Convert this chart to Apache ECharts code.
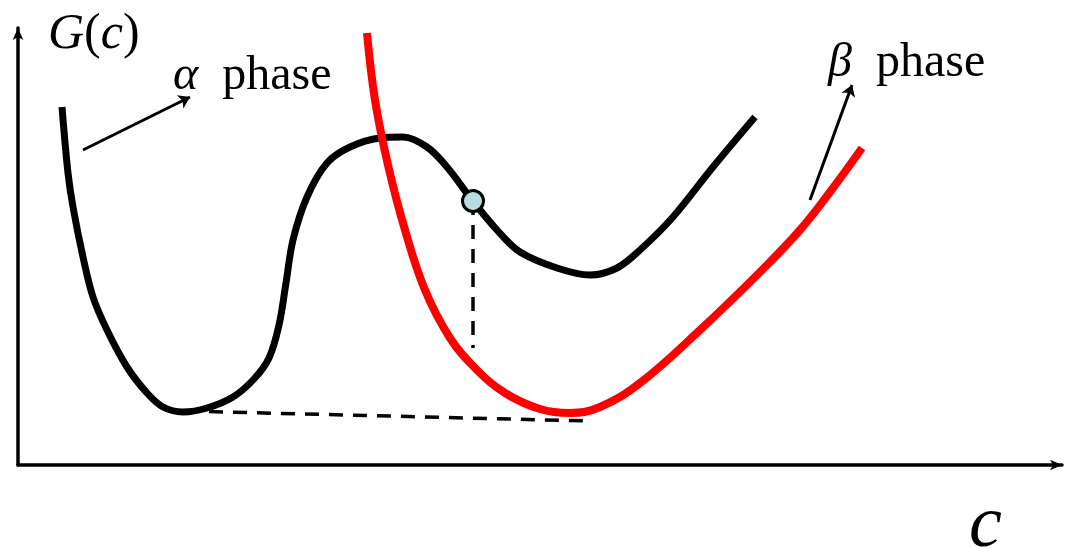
<!DOCTYPE html>
<html>
<head>
<meta charset="utf-8">
<script src="https://cdn.jsdelivr.net/npm/echarts@6/dist/echarts.min.js"></script>
<style>
  html, body { margin: 0; padding: 0; background: #fff; }
  #chart { width: 1066px; height: 548px; }
</style>
</head>
<body>
<div id="chart"></div>
<script>
// Free-energy curves G(c) for the alpha and beta phases (arbitrary units).
const alphaCurve = [
  [44, 358], [50, 292], [55, 258], [65, 208], [75, 168], [89, 135], [109, 98],
  [129, 72], [145, 58], [165, 53], [189, 57], [215, 68], [236, 86], [251, 107],
  [261, 140], [268, 182], [275, 225], [289, 268], [309, 302], [332, 318],
  [362, 327], [385, 328], [409, 318], [429, 298], [454, 265], [479, 235],
  [502, 213], [539, 197], [572, 190], [599, 197], [622, 215], [655, 248],
  [695, 298], [737, 348]
];
const betaCurve = [
  [349, 432], [357, 365], [370, 300], [387, 235], [407, 175], [432, 127],
  [457, 97], [487, 72], [522, 56], [552, 52], [582, 58], [622, 82], [682, 135],
  [742, 193], [782, 235], [812, 273], [844, 317]
];
// Common tangent between the two minima
const commonTangent = [[167, 54], [570, 44]];
// Point on the alpha curve and its drop line
const markedPoint = [455, 264];
const dropLine = [[455, 264], [455, 117]];
// Pointer arrows to the phase labels
const alphaPointer = [[65, 315], [172, 368]];
const betaPointer = [[792, 265], [834, 380]];
// Text labels: [x, y, key]
const textLabels = [
  [155, 389, 'alpha'],
  [810, 402, 'beta'],
  [30, 430, 'G'],
  [951, -62, 'c']
];

const serif = '"Times New Roman", "Liberation Serif", serif';

const chart = echarts.init(document.getElementById('chart'), null, { renderer: 'canvas' });

function arrowSeries(pts) {
  return {
    type: 'lines',
    coordinateSystem: 'cartesian2d',
    silent: true,
    symbol: ['none', 'arrow'],
    symbolSize: [0, 11],
    lineStyle: { color: '#000', width: 3, opacity: 1 },
    data: [{ coords: pts }],
    z: 5
  };
}

const richText = {
  it: { fontFamily: serif, fontStyle: 'italic', fontSize: 48, lineHeight: 48, color: '#000' },
  rm: { fontFamily: serif, fontSize: 48, lineHeight: 48, color: '#000' },
  git: { fontFamily: serif, fontStyle: 'italic', fontSize: 50, lineHeight: 50, color: '#000' },
  grm: { fontFamily: serif, fontSize: 50, lineHeight: 50, color: '#000' },
  big: { fontFamily: serif, fontStyle: 'italic', fontSize: 74, lineHeight: 74, color: '#000' }
};
const labelText = {
  alpha: '{it|α}{rm|  phase}',
  beta: '{it|β}{rm|  phase}',
  G: '{git|G}{grm|(}{git|c}{grm|)}',
  c: '{big|c}'
};

chart.setOption({
  animation: false,
  backgroundColor: '#fff',
  grid: { left: 18, right: 4, top: 28, bottom: 83 },
  xAxis: {
    type: 'value', min: 0, max: 1044,
    axisLine: { show: true, onZero: false, symbol: ['none', 'arrow'], symbolSize: [8, 12],
      lineStyle: { color: '#000', width: 3.5 } },
    axisTick: { show: false }, axisLabel: { show: false }, splitLine: { show: false }
  },
  yAxis: {
    type: 'value', min: 0, max: 437,
    axisLine: { show: true, onZero: false, symbol: ['none', 'arrow'], symbolSize: [8, 12],
      lineStyle: { color: '#000', width: 3.5 } },
    axisTick: { show: false }, axisLabel: { show: false }, splitLine: { show: false }
  },
  series: [
    {
      type: 'line', data: commonTangent, showSymbol: false, silent: true,
      lineStyle: { color: '#000', width: 3.5, type: [14, 10] }, z: 2
    },
    {
      type: 'line', data: dropLine, showSymbol: false, silent: true,
      lineStyle: { color: '#000', width: 3.5, type: [14, 10] }, z: 2
    },
    {
      type: 'line', data: alphaCurve, smooth: 0.35, showSymbol: false, silent: true,
      lineStyle: { color: '#000', width: 7, cap: 'butt' }, z: 3
    },
    {
      type: 'line', data: betaCurve, smooth: 0.4, showSymbol: false, silent: true,
      lineStyle: { color: '#ff0000', width: 8, cap: 'butt' }, z: 4
    },
    {
      type: 'scatter', data: [markedPoint], symbol: 'circle', symbolSize: 21, silent: true,
      itemStyle: { color: '#b7dde0', borderColor: '#000', borderWidth: 3, opacity: 1 }, z: 6
    },
    arrowSeries(alphaPointer),
    arrowSeries(betaPointer),
    {
      type: 'scatter', clip: false, silent: true, symbolSize: 0,
      itemStyle: { opacity: 1 },
      data: textLabels.map(t => ({ value: [t[0], t[1]], key: t[2] })),
      label: {
        show: true, position: 'right', distance: 0, color: '#000',
        formatter: p => labelText[p.data.key],
        rich: richText
      },
      z: 7
    }
  ]
});
</script>
</body>
</html>
